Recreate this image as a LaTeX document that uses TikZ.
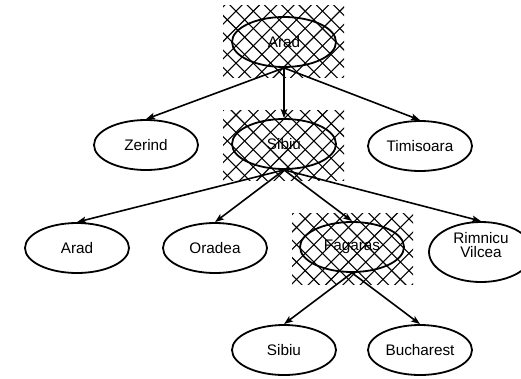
\documentclass[tikz,border=0pt]{standalone}
\usepackage{fontspec}
\setmainfont{Liberation Sans}
\usetikzlibrary{shapes.geometric,arrows.meta}
\tikzset{
  city/.style={ellipse, draw, line width=1.8pt, minimum width=104pt, minimum height=50pt,
    inner sep=0pt, font=\fontsize{15.3}{14.5}\selectfont, align=center},
  lbl/.style={inner sep=0pt, font=\fontsize{15.3}{14.5}\selectfont, align=center},
  edge/.style={line width=1.6pt, -{Stealth[length=9pt,width=6.5pt,inset=2pt]}},
  hatchline/.style={line width=1.1pt}
}
\newcommand\myhatch[4]{%
  \begin{scope}
    \clip (#1,#2) rectangle (#3,#4);
    \foreach \n in {-30,...,30} {
      \draw[hatchline] ({121+17.3*\n-50},-50) -- ({121+17.3*\n+450},450);
      \draw[hatchline] ({351+17.3*\n+50},-50) -- ({351+17.3*\n-450},450);
    }
  \end{scope}}
\begin{document}
\begin{tikzpicture}[x=1pt,y=-1pt]
\useasboundingbox (0,0) rectangle (521,378);
\myhatch{223}{5}{344}{77}
\myhatch{223}{110}{344}{180}
\myhatch{292}{213}{413}{284}

\node[city] (arad0) at (284,42) {Arad};
\node[city] (zerind) at (146,145) {Zerind};
\node[city] (sibiu) at (284,144) {Sibiu};
\node[city] (timisoara) at (420,146) {Timisoara};
\node[city] (arad1) at (77,248) {Arad};
\node[city] (oradea) at (215,248) {Oradea};
\node[city] (fagaras) at (352,247) {Fagaras};
\node[city, minimum height=60pt] (rimnicu) at (481,252) {};
\node[lbl] (rimnicutext) at (481,245) {Rimnicu\\Vilcea};
\node[city] (sibiu2) at (284,350) {Sibiu};
\node[city] (bucharest) at (420,350) {Bucharest};

\draw[edge] (arad0.south) -- (zerind.north);
\draw[edge] (arad0.south) -- (sibiu.north);
\draw[edge] (arad0.south) -- (timisoara.north);
\draw[edge] (sibiu.south) -- (arad1.north);
\draw[edge] (sibiu.south) -- (oradea.north);
\draw[edge] (sibiu.south) -- (fagaras.north);
\draw[edge] (sibiu.south) -- (rimnicu.north);
\draw[edge] (fagaras.south) -- (sibiu2.north);
\draw[edge] (fagaras.south) -- (bucharest.north);
\end{tikzpicture}
\end{document}
